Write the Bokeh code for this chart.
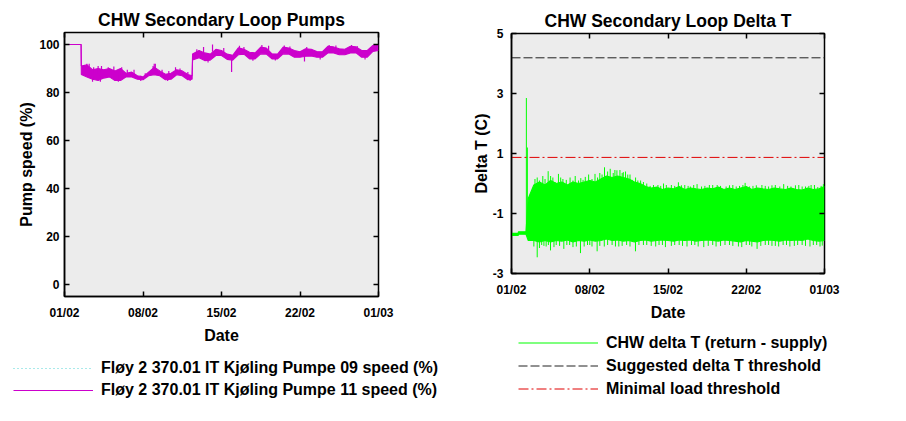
from bokeh.plotting import figure
from bokeh.models import (ColumnDataSource, FixedTicker, LinearAxis, Legend,
                          LegendItem, Range1d)
from bokeh.layouts import row, column
from bokeh.embed import file_html
from bokeh.resources import INLINE

FONT = "Liberation Sans"
NAN = float("nan")

# ---------------- data ----------------
# x values are days since 01/02
tick_days = [0, 7, 14, 21, 28]
tick_labels = ["01/02", "08/02", "15/02", "22/02", "01/03"]
x_start, x_end = 0, 28

pump_yticks = [0, 20, 40, 60, 80, 100]
dt_yticks = [-3, -1, 1, 3, 5]

# Pump 11 speed (%) envelope (high / low of the noisy trace)
pump11_t = [0, 1.48, 1.5, 2.0, 2.5, 3.0, 3.5, 4.0, 4.5, 5.0, 5.5, 6.0, 6.5, 7.0,
            7.5, 8.0, 8.5, 9.0, 9.5, 10.0, 10.5, 11.0, 11.38, 11.42, 12.0, 12.5,
            13.0, 13.5, 14.0, 14.5, 15.0, 15.5, 16.0, 16.5, 17.0, 17.5, 18.0,
            18.5, 19.0, 19.5, 20.0, 20.5, 21.0, 21.5, 22.0, 22.5, 23.0, 23.5,
            24.0, 24.5, 25.0, 25.5, 26.0, 26.5, 27.0, 27.5, 28.0]
pump11_hi = [100, 100, 91, 91.5, 89.5, 90, 89.5, 90, 89, 90, 88, 88.5, 87, 86.5,
             88.5, 90.5, 89, 87.6, 88, 89.5, 89, 87.5, 87, 96, 97.5, 96.5,
             96, 98, 97.5, 96, 95.5, 98.6, 98, 96.8, 96.5, 98.9, 98.5,
             96.1, 96, 98.9, 98.5, 97.5, 97, 98.2, 98, 97.1, 97, 99.3,
             99, 98.2, 98, 99.3, 99, 97.5, 97.5, 99.6, 99.8]
pump11_lo = [100, 100, 87.5, 86.5, 85.5, 85, 86, 86.5, 85, 85, 86.5, 86.5, 85.5, 85.3,
             87, 87.4, 87, 85.3, 85.5, 87.4, 87, 85.3, 85.5, 93.5, 94.5, 93.3,
             93.5, 95.4, 95.4, 93.8, 93.5, 95.7, 96, 94, 94, 96.1, 96,
             94, 94, 96.1, 96, 94.7, 94.7, 95.1, 95.2, 94.7, 94.7, 96.5,
             96.5, 95.7, 95.7, 96.5, 96.5, 94.7, 94.7, 97.1, 97.5]
# short excursions of the pump 11 trace: time, peak value, value it leaves from
pump11_spike_t = [1.7, 2.0, 2.2, 2.5, 2.6, 3.0, 3.2, 3.3, 3.9, 4.4, 4.8, 5.1, 5.6,
                  6.2, 6.8, 7.2, 7.9, 8.0, 8.1, 8.7, 9.2, 9.3, 9.9, 10.3, 11.0, 11.2,
                  11.8, 12.4, 12.8, 13.2, 14.2, 14.9, 15.6, 16.0, 16.8, 17.6, 18.2,
                  18.8, 19.6, 20.1, 21.4, 21.6, 22.8, 23.6, 24.2, 25.6, 26.1, 26.8,
                  27.6, 27.9]
pump11_spike_v = [91.5, 92, 92, 84.5, 90.5, 91, 84.5, 91, 90.5, 90.8, 84.5, 90.5, 89.5,
                  89.5, 84.8, 88, 91, 92, 92, 89.5, 84.8, 89, 90.5, 90, 88.5, 84.8,
                  98, 99, 92.5, 100, 98.5, 88.5, 99.5, 99, 93.2, 99.8, 99.5,
                  93.3, 99.6, 99.2, 92.9, 99, 93.8, 99.8, 99.6, 99.8, 99.4, 93.8,
                  100, 99.8]
pump11_spike_from = [89, 89, 89, 87, 88, 88, 87, 88, 88, 88, 87, 88, 87,
                     87, 87, 86, 88, 89, 89, 88, 87, 87, 88, 88, 86.5, 86.5,
                     96, 96, 95, 97, 96.5, 94.5, 97, 97, 95.5, 97.5, 97.5,
                     95, 97.5, 97.5, 95.5, 96.5, 96, 97.5, 97.5, 97.5, 97.5, 96,
                     98, 98]

# Pump 09 speed (%) - no visible data in the chart
pump09_t = []
pump09_v = []

# CHW delta T envelope (return - supply)
dt_t = [0, 0.6, 0.62, 1.3, 1.5, 2.0, 2.5, 3.0, 3.5, 4.0, 4.5, 5.0, 5.5, 6.0, 6.5,
        7.0, 7.5, 8.0, 8.5, 9.0, 9.5, 10.0, 10.5, 11.0, 11.5, 12.0, 12.5, 13.0,
        13.5, 14.0, 14.5, 15.0, 15.5, 16.0, 16.5, 17.0, 17.5, 18.0, 18.5, 19.0,
        19.5, 20.0, 20.5, 21.0, 21.5, 22.0, 22.5, 23.0, 23.5, 24.0, 24.5, 25.0,
        25.5, 26.0, 26.5, 27.0, 27.5, 28.0]
dt_hi = [-1.66, -1.66, -1.61, -1.61, -0.5, -0.05, 0.05, -0.05, 0.1, 0.0, 0.05, -0.05,
         0.05, 0.0, 0.05, 0.1, 0.05, 0.15, 0.25, 0.2, 0.25, 0.2, 0.15, 0.05, 0.0,
         -0.1, -0.15, -0.12, -0.2, -0.15, -0.18, -0.1, -0.2, -0.15, -0.18, -0.2,
         -0.15, -0.18, -0.12, -0.2, -0.15, -0.2, -0.15, -0.1, -0.2, -0.15, -0.18,
         -0.2, -0.15, -0.18, -0.2, -0.15, -0.2, -0.22, -0.15, -0.2, -0.18, -0.1]
dt_lo = [-1.73, -1.73, -1.69, -1.69, -1.9, -1.9, -1.95, -1.9, -1.95, -1.9, -1.92,
         -1.88, -1.95, -1.9, -1.92, -1.88, -1.92, -1.9, -1.85, -1.9, -1.88, -1.92,
         -1.9, -1.95, -1.9, -1.88, -1.92, -1.9, -1.88, -1.9, -1.92, -1.88, -1.9,
         -1.88, -1.92, -1.9, -1.88, -1.9, -1.92, -1.88, -1.9, -1.92, -1.95, -1.9,
         -1.92, -1.95, -1.9, -1.88, -1.9, -1.92, -1.88, -1.9, -1.88, -1.9, -1.85,
         -1.9, -1.92, -1.9]
# upward excursions (the first two leave from the flat start of the trace)
dt_up_t = [1.33, 1.42, 2.1, 2.3, 2.5, 2.8, 3.0, 3.28, 3.5, 3.7, 3.9, 4.2, 4.4, 4.6,
           4.9, 5.24, 5.5, 5.7, 6.0, 6.2, 6.4, 6.6, 6.9, 7.2, 7.47, 7.7, 7.9, 8.1,
           8.32, 8.6, 8.83, 9.1, 9.25, 9.43, 9.7, 9.9, 10.0, 10.2, 10.4, 10.6, 10.8,
           11.1, 11.3, 11.55, 11.8, 12.1, 12.4, 12.7, 13.1, 13.35, 13.6, 13.85,
           14.3, 14.6, 14.93, 15.2, 15.5, 15.8, 16.0, 16.3, 16.6, 17.0, 17.3, 17.7,
           18.0, 18.4, 18.7, 19.2, 19.5, 19.8, 20.1, 20.4, 20.7, 20.9, 21.3, 21.6,
           21.9, 22.4, 22.7, 23.0, 23.3, 23.6, 24.0, 24.35, 24.7, 25.0, 25.4, 25.7,
           26.0, 26.3, 26.6, 26.8, 27.1, 27.4, 27.7, 27.9]
dt_up_v = [2.85, 1.2, 0.15, 0.2, 0.1, 0.25, 0.15, 0.41, 0.25, 0.2, 0.05, 0.32, 0.2,
           0.15, 0.12, 0.2, 0.1, 0.25, 0.1, 0.18, 0.12, 0.22, 0.3, 0.15, 0.32, 0.2,
           0.35, 0.3, 0.54, 0.4, 0.49, 0.35, 0.45, 0.44, 0.45, 0.35, 0.38, 0.4, 0.3,
           0.3, 0.12, 0.2, 0.1, 0.1, 0.05, 0.0, -0.08, -0.05, -0.05, -0.08, 0.0,
           -0.05, -0.05, -0.08, 0.04, -0.06, -0.05, -0.08, -0.1, -0.05, -0.02, -0.1,
           -0.08, -0.05, -0.05, -0.05, -0.08, -0.1, -0.06, -0.05, -0.1, -0.08,
           -0.05, 0.02, -0.1, -0.08, -0.06, -0.05, -0.08, -0.1, -0.06, -0.05, -0.1,
           -0.02, -0.08, -0.1, -0.06, -0.05, -0.1, -0.1, -0.08, -0.05, -0.05, -0.12,
           -0.08, -0.02]
dt_dn_t = [2.0, 2.3, 2.5, 2.7, 2.9, 3.1, 3.3, 3.49, 3.8, 4.0, 4.3, 4.68, 4.95, 5.2,
           5.5, 5.8, 6.17, 6.5, 6.8, 7.0, 7.2, 7.66, 7.9, 8.3, 8.6, 9.0, 9.3, 9.6,
           9.9, 10.3, 10.6, 11.09, 11.4, 11.8, 12.1, 12.5, 12.9, 13.2, 13.5, 13.77,
           14.3, 14.6, 15.0, 15.3, 15.7, 16.1, 16.4, 16.7, 17.2, 17.6, 18.0, 18.3,
           18.7, 19.1, 19.5, 19.8, 20.3, 20.6, 21.0, 21.3, 21.5, 21.97, 22.3, 22.7,
           23.0, 23.3, 23.6, 23.9, 24.3, 24.6, 24.9, 25.3, 25.6, 26.0, 26.3, 26.7,
           27.0, 27.3, 27.6, 27.8]
dt_dn_v = [-2.1, -2.46, -2.15, -2.05, -2.08, -2.1, -2.05, -2.23, -2.12, -2.05, -2.08,
           -2.18, -2.05, -2.05, -2.12, -2.1, -2.32, -2.1, -2.05, -2.05, -2.1, -2.26,
           -2.08, -2.1, -2.05, -2.05, -2.1, -2.1, -2.08, -2.05, -2.1, -2.26, -2.05,
           -2.05, -2.05, -2.08, -2.1, -2.05, -2.05, -2.12, -2.08, -2.05, -2.05,
           -2.08, -2.1, -2.05, -2.05, -2.1, -2.12, -2.08, -2.05, -2.1, -2.08, -2.05,
           -2.05, -2.08, -2.1, -2.12, -2.05, -2.05, -2.1, -2.18, -2.08, -2.05, -2.05,
           -2.08, -2.08, -2.1, -2.05, -2.05, -2.1, -2.08, -2.05, -2.05, -2.08, -2.1,
           -2.05, -2.05, -2.1, -2.07]
spike_base = -1.0
first_spike_base = -1.66

suggested_dt = 4.19
minimal_load = 0.87

# ---------------- styles ----------------
BG = "#ECECEC"
MAG = "#CC00CC"
CYAN = "#55D5D5"
GRN = "#00FF00"
DASHC = "#222222"
RED = "#E00000"
pump09_style = dict(line_color=CYAN, line_dash="1 3", line_width=1.2)
pump11_style = dict(line_color=MAG, line_width=1.1)
dt_style = dict(line_color=GRN, line_width=1.2)
sugg_style = dict(line_color=DASHC, line_dash="9 3", line_width=1)
minl_style = dict(line_color=RED, line_dash="10 3 2 3", line_width=1)


def style(p, xticks, yticks, xlabel, ylabel, ylab_standoff, ylabel_standoff):
    p.background_fill_color = BG
    p.border_fill_color = "white"
    p.outline_line_color = "black"
    p.outline_line_width = 1.5
    p.xgrid.visible = False
    p.ygrid.visible = False
    p.title.text_font = FONT
    p.title.text_font_size = "17.5px"
    p.title.text_font_style = "bold"
    p.title.text_color = "black"
    p.title.align = "center"
    p.title.standoff = 6
    xa = p.below[0]
    ya = p.left[0]
    xa.ticker = FixedTicker(ticks=xticks)
    xa.major_label_overrides = dict(zip(xticks, tick_labels))
    ya.ticker = FixedTicker(ticks=yticks)
    ya.major_label_overrides = {v: str(v) for v in yticks}
    xa.axis_label = xlabel
    ya.axis_label = ylabel
    for ax in (xa, ya):
        ax.axis_line_color = "black"
        ax.axis_line_width = 1.5
        ax.major_tick_in = 5
        ax.major_tick_out = 0
        ax.major_tick_line_width = 1.5
        ax.minor_tick_line_color = None
        ax.major_label_text_font = FONT
        ax.major_label_text_font_size = "12px"
        ax.major_label_text_font_style = "bold"
        ax.major_label_text_color = "black"
        ax.axis_label_text_font = FONT
        ax.axis_label_text_font_size = "16px"
        ax.axis_label_text_font_style = "bold"
        ax.axis_label_text_color = "black"
    xa.major_label_standoff = 9
    xa.axis_label_standoff = 4
    ya.major_label_standoff = ylab_standoff
    ya.axis_label_standoff = ylabel_standoff
    # mirror ticks on top and right
    top = LinearAxis(ticker=FixedTicker(ticks=xticks), major_label_text_font_size="0px",
                     major_label_standoff=0, axis_line_color=None, major_tick_in=5,
                     major_tick_out=0, major_tick_line_width=1.5, minor_tick_line_color=None)
    right = LinearAxis(ticker=FixedTicker(ticks=yticks), major_label_text_font_size="0px",
                       major_label_standoff=0, axis_line_color=None, major_tick_in=5,
                       major_tick_out=0, major_tick_line_width=1.5, minor_tick_line_color=None)
    p.add_layout(top, "above")
    p.add_layout(right, "right")


def legend_fig(width, height, entries, loc, h):
    f = figure(width=width, height=height, output_backend="svg", toolbar_location=None,
               x_axis_type=None, y_axis_type=None, x_range=Range1d(0, 1),
               y_range=Range1d(0, 1), min_border=0, outline_line_color=None,
               frame_align=False)
    f.xgrid.visible = False
    f.ygrid.visible = False
    f.background_fill_color = "white"
    items = []
    for label, st in entries:
        r = f.line([NAN], [NAN], **st)
        items.append(LegendItem(label=label, renderers=[r]))
    lg = Legend(items=items, location=loc, border_line_color=None,
                background_fill_alpha=0, padding=0, margin=0, spacing=2,
                glyph_width=80, glyph_height=h, label_height=h, label_standoff=8,
                label_text_font=FONT, label_text_font_size="16px",
                label_text_font_style="bold", label_text_color="black")
    f.add_layout(lg, "center")
    return f


# ---------------- left: pumps ----------------
p1 = figure(frame_width=314, frame_height=264, output_backend="svg", toolbar_location=None,
            title="CHW Secondary Loop Pumps",
            x_range=Range1d(x_start, x_end), y_range=Range1d(-5, 105),
            min_border_left=64, min_border_right=70, min_border_top=32,
            min_border_bottom=54, frame_align=False)
style(p1, tick_days, pump_yticks, "Date", "Pump speed (%)", 5, 1)

p1.line(pump09_t, pump09_v, **pump09_style)
src11 = ColumnDataSource(dict(t=pump11_t, hi=pump11_hi, lo=pump11_lo))
p1.varea(x="t", y1="lo", y2="hi", source=src11, fill_color=MAG)
p1.line(x="t", y="hi", source=src11, **pump11_style)
p1.line(x="t", y="lo", source=src11, **pump11_style)
p1.segment(x0=pump11_spike_t, y0=pump11_spike_from, x1=pump11_spike_t,
           y1=pump11_spike_v, line_color=MAG, line_width=1.2)

l1 = legend_fig(448, 55, [
    ("Fløy 2 370.01 IT Kjøling Pumpe 09 speed (%)", pump09_style),
    ("Fløy 2 370.01 IT Kjøling Pumpe 11 speed (%)", pump11_style),
], (13, 5), 20)

# ---------------- right: delta T ----------------
p2 = figure(frame_width=313, frame_height=240, output_backend="svg", toolbar_location=None,
            title="CHW Secondary Loop Delta T",
            x_range=Range1d(x_start, x_end), y_range=Range1d(-3, 5),
            min_border_left=63, min_border_right=74, min_border_top=33,
            min_border_bottom=52, frame_align=False)
style(p2, tick_days, dt_yticks, "Date", "Delta T (C)", 8, 0)

srcdt = ColumnDataSource(dict(t=dt_t, hi=dt_hi, lo=dt_lo))
p2.varea(x="t", y1="lo", y2="hi", source=srcdt, fill_color=GRN)
p2.line(x="t", y="hi", source=srcdt, **dt_style)
p2.line(x="t", y="lo", source=srcdt, **dt_style)
up_base = [first_spike_base, first_spike_base] + [spike_base] * (len(dt_up_t) - 2)
p2.segment(x0=dt_up_t, y0=up_base, x1=dt_up_t, y1=dt_up_v, line_color=GRN, line_width=1)
p2.segment(x0=dt_dn_t, y0=[spike_base] * len(dt_dn_t), x1=dt_dn_t, y1=dt_dn_v,
           line_color=GRN, line_width=1)
p2.line([x_start, x_end], [suggested_dt, suggested_dt], **sugg_style)
p2.line([x_start, x_end], [minimal_load, minimal_load], **minl_style)

l2 = legend_fig(450, 88, [
    ("CHW delta T (return - supply)", dt_style),
    ("Suggested delta T threshold", sugg_style),
    ("Minimal load threshold", minl_style),
], (70, 14), 21)

layout = row(column(p1, l1), column(p2, l2))
open("out.html", "w").write(file_html(layout, INLINE))
